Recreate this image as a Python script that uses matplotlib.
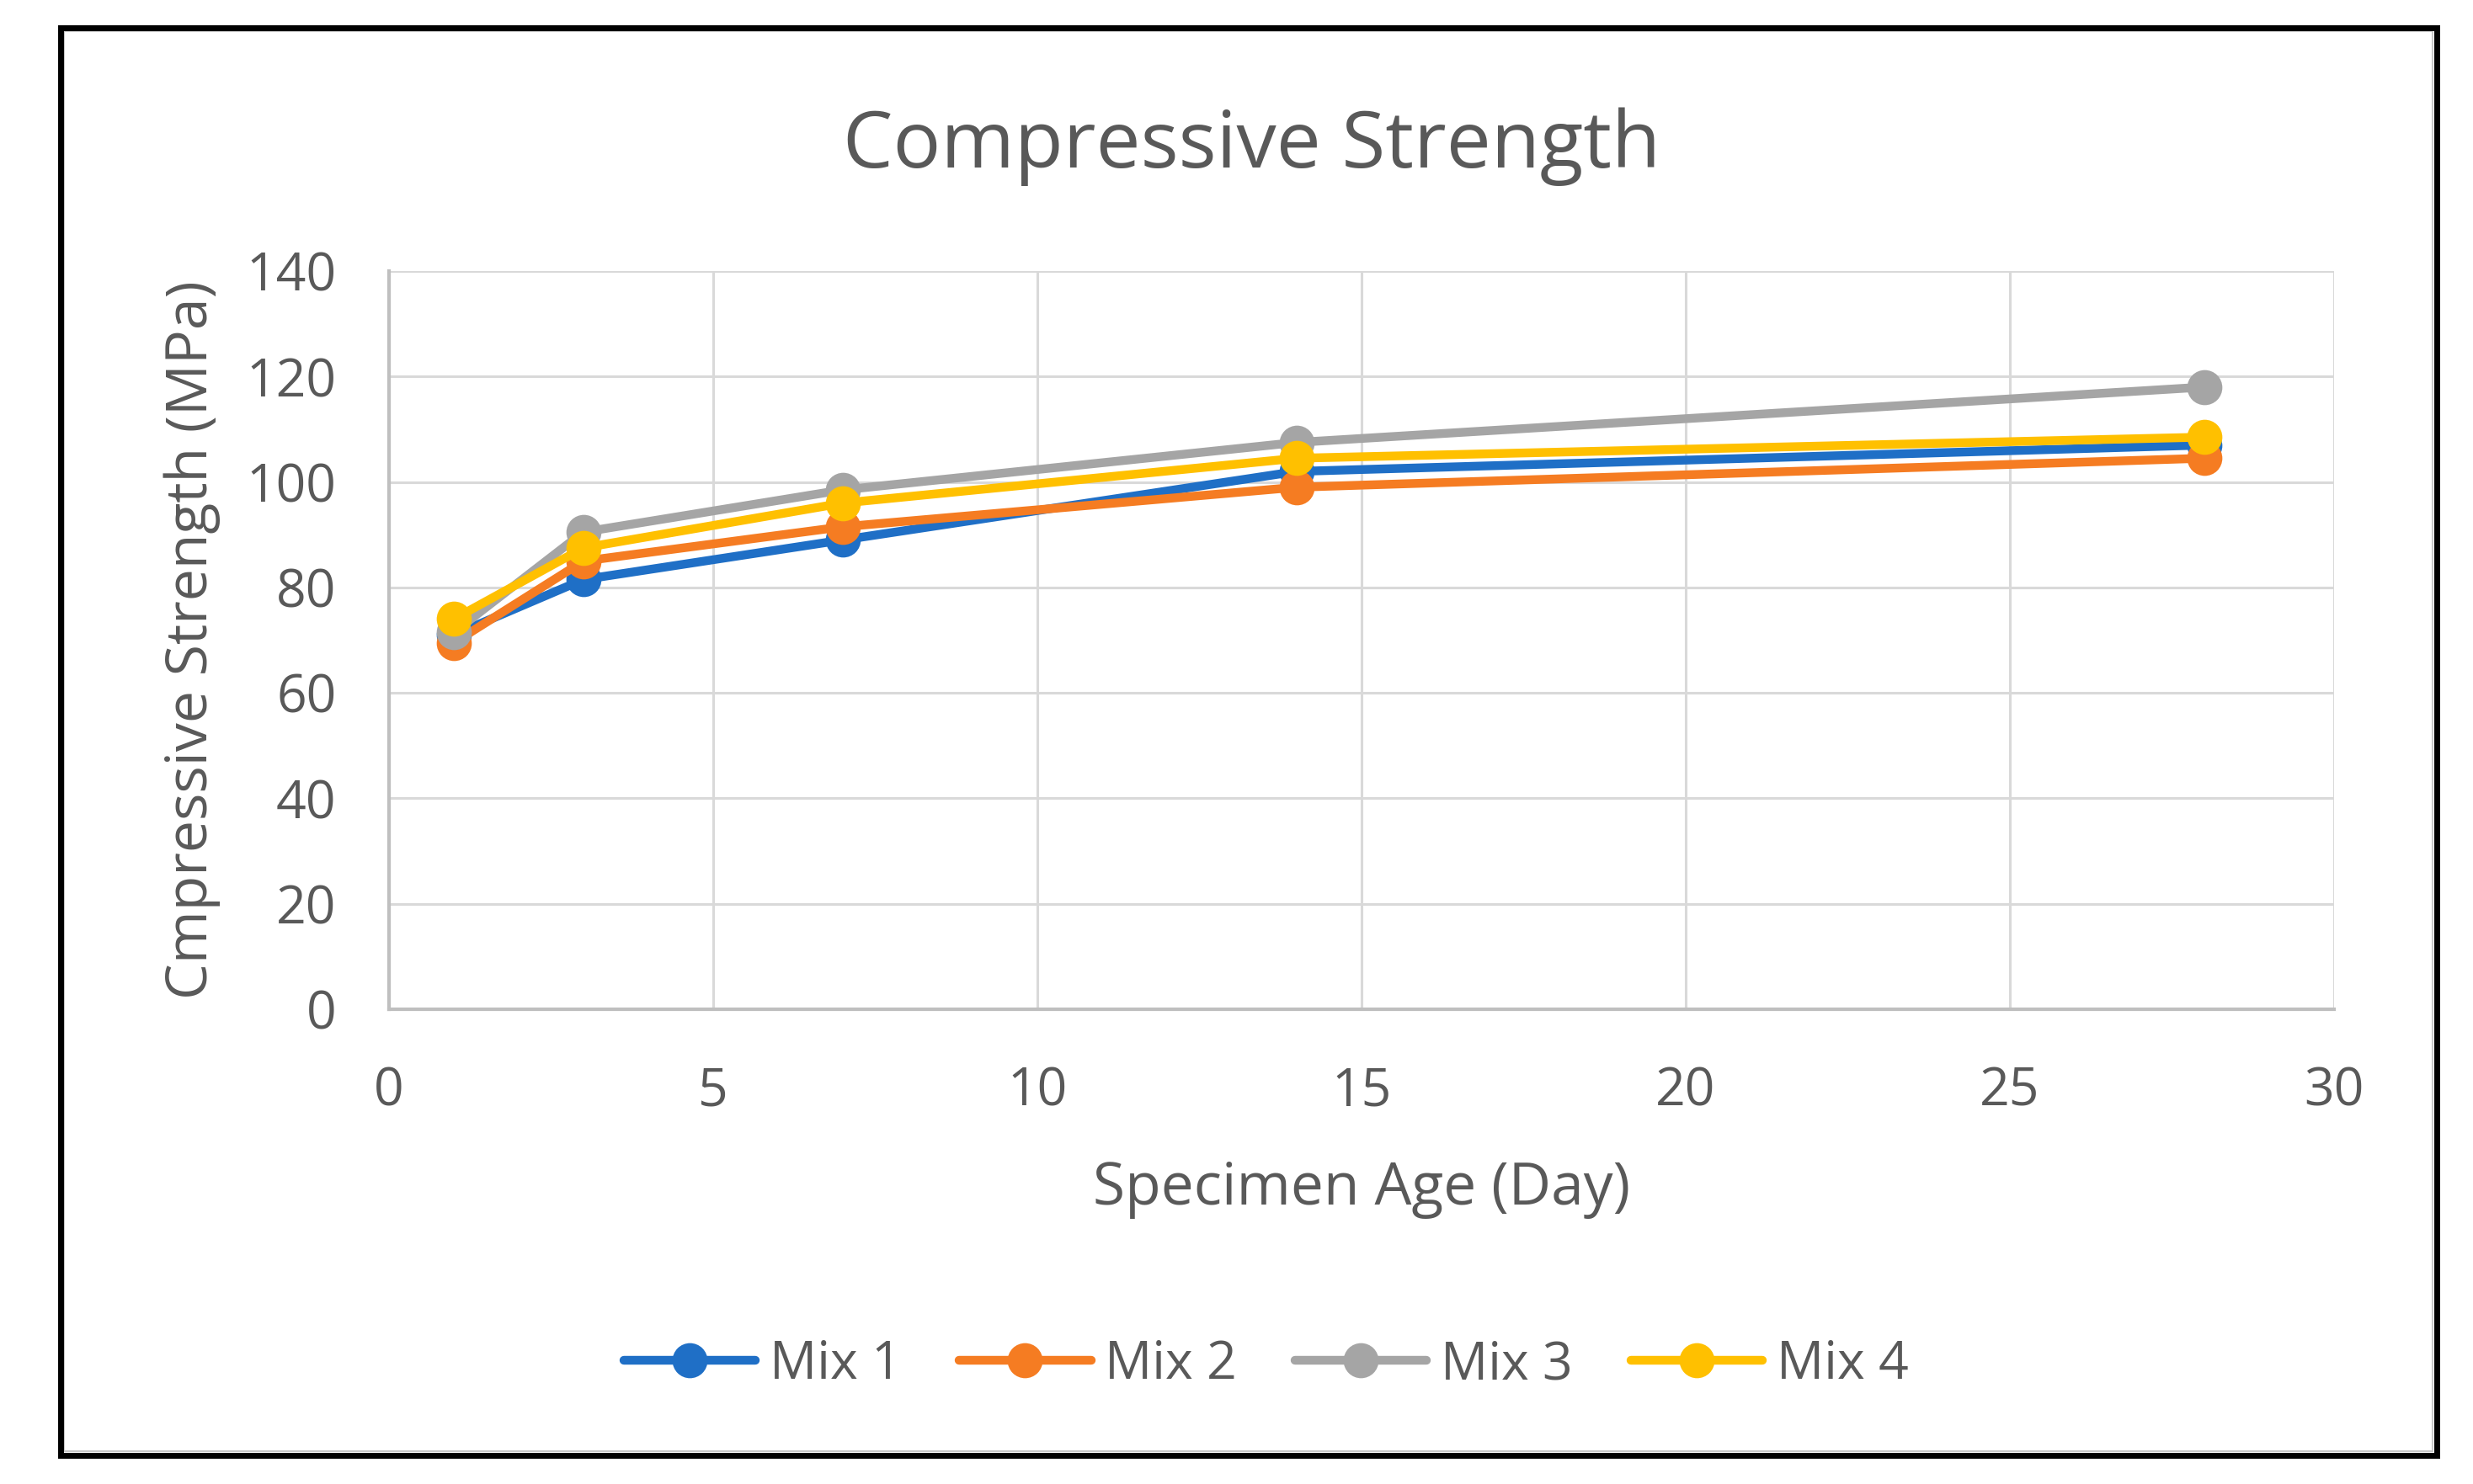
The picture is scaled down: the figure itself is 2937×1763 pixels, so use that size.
import matplotlib
matplotlib.use("Agg")
import matplotlib.pyplot as plt
from matplotlib.patches import Rectangle

# data
days = [1, 3, 7, 14, 28]
mix_1 = [71, 81.5, 89, 102, 107]
mix_2 = [69.5, 85, 91.5, 99, 104.5]
mix_3 = [71.5, 90.5, 98.5, 107.5, 118]
mix_4 = [74, 87.5, 96, 104.5, 108.5]
labels = ["Mix 1", "Mix 2", "Mix 3", "Mix 4"]
colors = ["#1f6fc6", "#f57c22", "#a5a5a5", "#ffc000"]

x_ticks = [0, 5, 10, 15, 20, 25, 30]
y_ticks = [0, 20, 40, 60, 80, 100, 120, 140]

plt.rcParams['font.family'] = ['Open Sans', 'DejaVu Sans']
text_col = "#595959"

W, H = 2937, 1763
fig = plt.figure(figsize=(W / 100, H / 100), dpi=100)
ax = fig.add_axes([462 / W, 1 - 1199 / H, (2772 - 462) / W, (1199 - 322) / H])

for vals, lab, col in zip([mix_1, mix_2, mix_3, mix_4], labels, colors):
    ax.plot(days, vals, color=col, lw=7.5, marker='o', markersize=30,
            markeredgewidth=0, label=lab, solid_capstyle='round')

ax.set_xlim(0, 30)
ax.set_ylim(0, 140)
ax.set_xticks(x_ticks)
ax.set_yticks(y_ticks)
ax.grid(True, color="#d9d9d9", lw=2.2)
ax.set_axisbelow(True)
for side in ["top", "right"]:
    ax.spines[side].set_visible(False)
for side in ["left", "bottom"]:
    ax.spines[side].set_color("#bfbfbf")
    ax.spines[side].set_linewidth(3)
ax.tick_params(axis='both', length=0, labelsize=45, labelcolor=text_col)
ax.tick_params(axis='x', pad=48)
ax.tick_params(axis='y', pad=45)

ax.set_xlabel("Specimen Age (Day)", fontsize=50, color=text_col, labelpad=36)
ax.set_ylabel("Cmpressive Strength (MPa)", fontsize=49, color=text_col, labelpad=22)

fig.text(0.506, 1 - 199 / H, "Compressive Strength", fontsize=68,
         color=text_col, ha='center', va='baseline')

fig.legend(loc='center', bbox_to_anchor=(0.512, 1 - 1622 / H), ncol=4,
           frameon=False, fontsize=45, handlelength=2.5, handletextpad=0.27,
           columnspacing=1.1, labelcolor=text_col)

# outer frame like a pasted Excel chart
fig.patches.append(Rectangle((76 / W, 1 - 1724 / H), (2889 - 76) / W, (1724 - 37) / H,
                             transform=fig.transFigure, fill=False,
                             edgecolor="#c8c8c8", lw=1.5))
fig.patches.append(Rectangle((71.5 / W, 1 - 1728.5 / H), (2893.5 - 71.5) / W,
                             (1728.5 - 32.5) / H, transform=fig.transFigure,
                             fill=False, edgecolor="black", lw=5))

fig.savefig("out.png", dpi=100)
